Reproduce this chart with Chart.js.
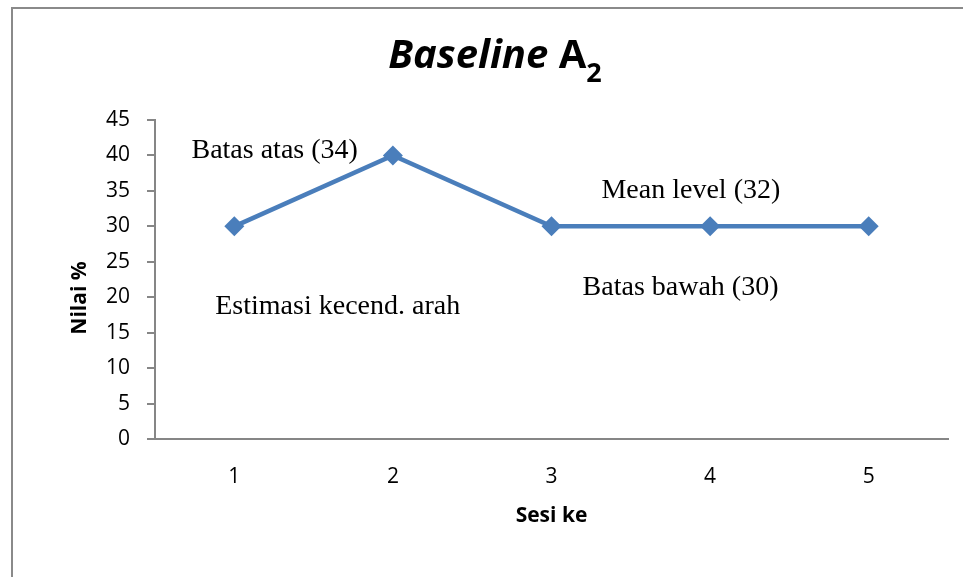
<!DOCTYPE html>
<html>
<head>
<meta charset="utf-8">
<title>Baseline A2</title>
<script src="https://cdn.jsdelivr.net/npm/chart.js@4.4.1/dist/chart.umd.min.js"></script>
<style>
  html, body { margin: 0; padding: 0; background: #fff; }
  #wrap { width: 963px; height: 577px; }
</style>
</head>
<body>
<div id="wrap"><canvas id="baseline-chart" width="963" height="577"></canvas></div>
<script>
const sessions = ['1', '2', '3', '4', '5'];
const scores = [30, 40, 30, 30, 30];
const yTicks = [0, 5, 10, 15, 20, 25, 30, 35, 40, 45];

// free text notes placed in data space (x = category index, y = value at baseline)
const notes = [
  { text: 'Batas atas (34)', x: -0.27, y: 39.6 },
  { text: 'Mean level (32)', x: 2.315, y: 34.0 },
  { text: 'Batas bawah (30)', x: 2.196, y: 20.3 },
  { text: 'Estimasi kecend. arah', x: -0.12, y: 17.6 }
];

const lineBlue = '#4a7ebb';
const axisGrey = '#868686';

const framePlugin = {
  id: 'frame',
  beforeDraw(chart) {
    const ctx = chart.ctx;
    ctx.save();
    ctx.fillStyle = '#fff';
    ctx.fillRect(0, 0, chart.width, chart.height);
    ctx.strokeStyle = '#8a8a8a';
    ctx.lineWidth = 2;
    ctx.strokeRect(12, 8, 1200, 1200);
    ctx.restore();
  }
};

// title with a subscript and the rotated y label, drawn by hand
const titlePlugin = {
  id: 'subTitle',
  afterDraw(chart) {
    const ctx = chart.ctx;
    ctx.save();
    ctx.fillStyle = '#000';
    ctx.textBaseline = 'alphabetic';
    const f1 = 'italic bold 40px "Open Sans"';
    const f2 = 'bold 40px "Open Sans"';
    const f3 = 'bold 27px "Open Sans"';
    ctx.font = f1; const w1 = ctx.measureText('Baseline ').width;
    ctx.font = f2; const w2 = ctx.measureText('A').width;
    ctx.font = f3; const w3 = ctx.measureText('2').width;
    let x = 495 - (w1 + w2 + w3) / 2;
    ctx.font = f1; ctx.fillText('Baseline ', x, 68); x += w1;
    ctx.font = f2; ctx.fillText('A', x, 68); x += w2;
    ctx.font = f3; ctx.fillText('2', x, 82);

    ctx.translate(80, 298);
    ctx.rotate(-Math.PI / 2);
    ctx.font = 'bold 21px "Open Sans"';
    ctx.textAlign = 'center';
    ctx.textBaseline = 'middle';
    ctx.fillText('Nilai %', 0, 0);
    ctx.restore();
  }
};

const notesPlugin = {
  id: 'notes',
  afterDatasetsDraw(chart) {
    const ctx = chart.ctx;
    const xs = chart.scales.x, ys = chart.scales.y;
    ctx.save();
    ctx.fillStyle = '#000';
    ctx.font = '28px "Liberation Serif"';
    ctx.textAlign = 'left';
    ctx.textBaseline = 'alphabetic';
    notes.forEach(n => {
      ctx.fillText(n.text, xs.getPixelForValue(n.x), ys.getPixelForValue(n.y));
    });
    ctx.restore();
  }
};

new Chart(document.getElementById('baseline-chart'), {
  type: 'line',
  data: {
    labels: sessions,
    datasets: [{
      data: scores,
      borderColor: lineBlue,
      backgroundColor: lineBlue,
      borderWidth: 4.5,
      pointStyle: 'rectRot',
      pointRadius: 10,
      pointHoverRadius: 10,
      pointBorderWidth: 0,
      tension: 0
    }]
  },
  options: {
    responsive: false,
    animation: false,
    layout: { padding: { left: 68, right: 15, top: 120, bottom: 48 } },
    plugins: {
      legend: { display: false },
      tooltip: { enabled: false },
      title: { display: false }
    },
    scales: {
      x: {
        offset: true,
        grid: { display: false },
        border: { display: true, color: axisGrey, width: 2 },
        ticks: { color: '#000', padding: 17, font: { family: 'Open Sans', size: 21 } },
        title: {
          display: true, text: 'Sesi ke', color: '#000', padding: 0,
          font: { family: 'Open Sans', size: 21, weight: 'bold' }
        },
        afterFit(scale) { scale.height = 90; }
      },
      y: {
        min: 0,
        max: 45,
        afterBuildTicks(scale) { scale.ticks = yTicks.map(v => ({ value: v })); },
        grid: { drawOnChartArea: false, color: axisGrey, lineWidth: 2, tickLength: 8 },
        border: { display: true, color: axisGrey, width: 2 },
        ticks: { color: '#000', padding: 17, font: { family: 'Open Sans', size: 21 } },
        afterFit(scale) { scale.width = 87; }
      }
    }
  },
  plugins: [framePlugin, titlePlugin, notesPlugin]
});
</script>
</body>
</html>
